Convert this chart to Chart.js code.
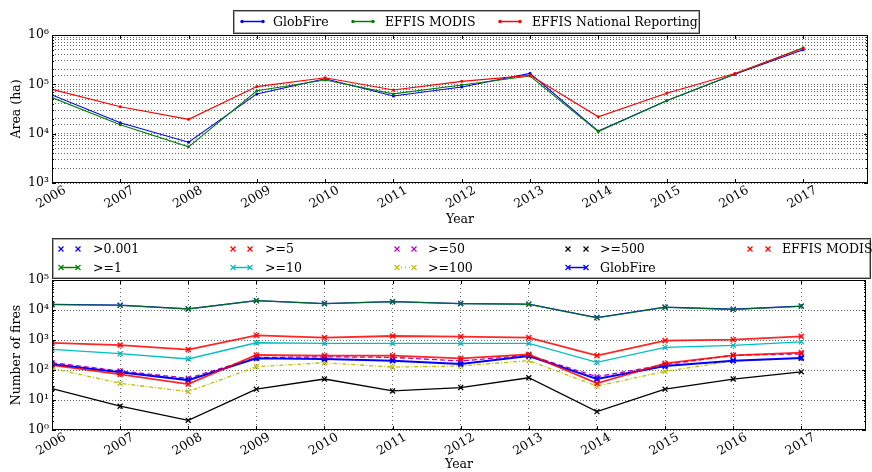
<!DOCTYPE html>
<html>
<head>
<meta charset="utf-8">
<script src="https://cdn.jsdelivr.net/npm/chart.js@4.4.0/dist/chart.umd.min.js"></script>
<style>
  html, body { margin: 0; padding: 0; background: #fff; overflow: hidden; }
  canvas { position: absolute; left: 0; }
</style>
</head>
<body>
<canvas id="areaChart" width="872" height="228" style="top:0"></canvas>
<canvas id="fireChart" width="872" height="244" style="top:228px"></canvas>
<script>
// values
const years = [2006, 2007, 2008, 2009, 2010, 2011, 2012, 2013, 2014, 2015, 2016, 2017];

const areaGlobFire = [61000, 16700, 6700, 64000, 130000, 58000, 88000, 167000, 11300, 46500, 160000, 503000];
const areaEffisModis = [54000, 15200, 5400, 74000, 122000, 64000, 97000, 147000, 11000, 46500, 162000, 553000];
const areaEffisNational = [79000, 35000, 19500, 90000, 136000, 77000, 115000, 152000, 22000, 66000, 166000, 537000];

const firesAll = [15300, 14500, 10900, 20600, 16400, 19100, 16400, 15700, 5600, 12400, 10600, 13500];
const firesGe1 = [15000, 14300, 10800, 20400, 16200, 18900, 16200, 15500, 5500, 12300, 10500, 13300];
const firesGe5 = [800, 680, 475, 1430, 1200, 1360, 1290, 1200, 300, 950, 1025, 1325];
const firesGe10 = [489, 349, 233, 810, 774, 774, 774, 774, 180, 570, 664, 870];
const firesGe50 = [175, 93, 53, 260, 275, 264, 200, 310, 60, 150, 310, 341];
const firesGe100 = [114, 36, 19, 129, 175, 125, 136, 205, 29, 90, 200, 245];
const firesGe500 = [24, 6.2, 2.1, 23, 50, 20, 26, 55, 4.1, 23, 50, 87];
const firesGlobFire = [155, 84, 46, 245, 233, 205, 158, 293, 50, 136, 205, 251];
const firesEffisModis = [145, 72, 34, 316, 300, 300, 245, 333, 36, 167, 308, 378];

const areaTickLabels = { 3: '10³', 4: '10⁴', 5: '10⁵', 6: '10⁶' };
const fireTickLabels = { 0: '10⁰', 1: '10¹', 2: '10²', 3: '10³', 4: '10⁴', 5: '10⁵' };

const FONT = 'DejaVu Serif';
const FSIZE = 12.5;
const GRID = 'rgba(0,0,0,0.6)';
const pts = arr => years.map((y, i) => ({ x: y, y: arr[i] }));
const isPow10 = v => Math.abs(Math.log10(v) - Math.round(Math.log10(v))) < 1e-9;

// box around plot + inward tick marks like matplotlib
const framePlugin = {
  id: 'frame',
  afterDraw(chart) {
    const { ctx, chartArea: a, scales } = chart;
    ctx.save();
    ctx.strokeStyle = '#000';
    ctx.lineWidth = 1;
    ctx.strokeRect(a.left + 0.5, a.top + 0.5, a.right - a.left - 1, a.bottom - a.top - 1);
    ctx.beginPath();
    scales.x.ticks.forEach(t => {
      const px = Math.round(scales.x.getPixelForValue(t.value)) + 0.5;
      ctx.moveTo(px, a.top); ctx.lineTo(px, a.top + 4);
      ctx.moveTo(px, a.bottom); ctx.lineTo(px, a.bottom - 4);
    });
    scales.y.ticks.forEach(t => {
      const py = Math.round(scales.y.getPixelForValue(t.value)) + 0.5;
      const len = isPow10(t.value) ? 4 : 2;
      ctx.moveTo(a.left, py); ctx.lineTo(a.left + len, py);
      ctx.moveTo(a.right, py); ctx.lineTo(a.right - len, py);
    });
    ctx.stroke();
    ctx.restore();
  }
};

function drawMarker(ctx, kind, x, y, color) {
  ctx.save();
  ctx.strokeStyle = color;
  ctx.fillStyle = color;
  ctx.lineWidth = 1.2;
  if (kind === 'dot') {
    ctx.beginPath(); ctx.arc(x, y, 1.7, 0, Math.PI * 2); ctx.fill();
  } else {
    ctx.beginPath();
    ctx.moveTo(x - 2.5, y - 2.5); ctx.lineTo(x + 2.5, y + 2.5);
    ctx.moveTo(x - 2.5, y + 2.5); ctx.lineTo(x + 2.5, y - 2.5);
    ctx.stroke();
  }
  ctx.restore();
}

// matplotlib-like legend box
const boxLegendPlugin = {
  id: 'boxLegend',
  afterDraw(chart, args, opts) {
    const ctx = chart.ctx;
    const [bx, by, bw, bh] = opts.box;
    ctx.save();
    ctx.fillStyle = '#fff';
    ctx.fillRect(bx, by, bw, bh);
    ctx.strokeStyle = '#333';
    ctx.lineWidth = 1;
    ctx.strokeRect(bx + 0.5, by + 0.5, bw - 1, bh - 1);
    ctx.strokeStyle = '#aaa';
    ctx.strokeRect(bx + 1.5, by + 1.5, bw - 3, bh - 3);
    ctx.font = FSIZE + 'px "' + FONT + '"';
    ctx.textBaseline = 'middle';
    ctx.fillStyle = '#000';
    opts.items.forEach(it => {
      if (it.line) {
        ctx.save();
        ctx.strokeStyle = it.color;
        ctx.lineWidth = it.width || 1.5;
        ctx.setLineDash(it.dash || []);
        ctx.beginPath();
        ctx.moveTo(it.x, it.y); ctx.lineTo(it.x + it.len, it.y);
        ctx.stroke();
        ctx.restore();
      }
      drawMarker(ctx, it.marker, it.x, it.y, it.color);
      drawMarker(ctx, it.marker, it.x + it.len, it.y, it.color);
      ctx.fillStyle = '#000';
      ctx.fillText(it.label, it.tx, it.y + 1);
    });
    ctx.restore();
  }
};

const xScale = (gridOn) => ({
  type: 'linear',
  min: 2006,
  max: 2017.95,
  afterFit: s => { s.height = gridOn ? 42 : 45; },
  ticks: {
    stepSize: 1,
    includeBounds: false,
    autoSkip: false,
    minRotation: 30,
    maxRotation: 30,
    labelOffset: 13,
    padding: 0,
    color: '#000',
    font: { family: FONT, size: FSIZE },
    callback: v => Number.isInteger(v) ? String(v) : ''
  },
  grid: {
    display: gridOn,
    drawTicks: false,
    color: GRID
  },
  border: { display: false, dash: [1, 3] },
  title: { display: true, text: 'Year', color: '#000', font: { family: FONT, size: FSIZE }, padding: { top: 0, bottom: gridOn ? 0 : 1 } }
});

const yScale = (min, max, labels, title, minorGrid) => ({
  type: 'logarithmic',
  min: min,
  max: max,
  afterFit: s => { s.width = 52; },
  ticks: {
    autoSkip: false,
    padding: 3,
    color: '#000',
    font: { family: FONT, size: FSIZE },
    callback: v => isPow10(v) ? (labels[Math.round(Math.log10(v))] || '') : ''
  },
  grid: {
    drawTicks: false,
    color: ctx => (minorGrid || isPow10(ctx.tick.value)) ? GRID : 'rgba(0,0,0,0)'
  },
  border: { display: false, dash: [1, 2] },
  title: { display: true, text: title, color: '#000', font: { family: FONT, size: FSIZE }, padding: { top: 9, bottom: 0 } }
});

new Chart(document.getElementById('areaChart'), {
  type: 'line',
  plugins: [framePlugin, boxLegendPlugin],
  data: {
    datasets: [
      { label: 'GlobFire', data: pts(areaGlobFire), borderColor: '#0000ff', backgroundColor: '#0000ff', order: 3 },
      { label: 'EFFIS MODIS', data: pts(areaEffisModis), borderColor: '#008000', backgroundColor: '#008000', order: 2 },
      { label: 'EFFIS National Reporting', data: pts(areaEffisNational), borderColor: '#ff0000', backgroundColor: '#ff0000', order: 1 }
    ]
  },
  options: {
    responsive: false,
    animation: false,
    layout: { padding: { top: 35, right: 1, left: 0, bottom: 0 } },
    elements: {
      line: { borderWidth: 1.1, tension: 0 },
      point: { radius: 1.5, pointStyle: 'circle', borderWidth: 0 }
    },
    scales: {
      x: xScale(false),
      y: yScale(1e3, 1e6, areaTickLabels, 'Area (ha)', true)
    },
    plugins: {
      legend: { display: false },
      tooltip: { enabled: false },
      boxLegend: {
        box: [233, 10, 467, 24],
        items: [
          { label: 'GlobFire', color: '#0000ff', marker: 'dot', line: true, x: 242, len: 21, y: 21.5, tx: 273 },
          { label: 'EFFIS MODIS', color: '#008000', marker: 'dot', line: true, x: 353, len: 20, y: 21.5, tx: 385 },
          { label: 'EFFIS National Reporting', color: '#ff0000', marker: 'dot', line: true, x: 500, len: 20, y: 21.5, tx: 532 }
        ]
      }
    }
  }
});

const fireSet = (label, arr, color, extra) => Object.assign({
  label: label,
  data: pts(arr),
  borderColor: color,
  backgroundColor: color,
  pointBorderColor: color
}, extra || {});

new Chart(document.getElementById('fireChart'), {
  type: 'line',
  plugins: [framePlugin, boxLegendPlugin],
  data: {
    datasets: [
      fireSet('>0.001', firesAll, '#0000ff', { order: 9 }),
      fireSet('>=1', firesGe1, 'rgba(0,128,0,0.8)', { order: 8 }),
      fireSet('>=5', firesGe5, 'rgba(255,0,0,0.85)', { order: 7, borderWidth: 1.8 }),
      fireSet('>=10', firesGe10, '#00bfbf', { order: 6 }),
      fireSet('>=50', firesGe50, '#bf00bf', { order: 5, borderDash: [5, 3] }),
      fireSet('>=100', firesGe100, '#bfbf00', { order: 4, borderDash: [4, 2, 1, 2] }),
      fireSet('>=500', firesGe500, '#000000', { order: 3 }),
      fireSet('GlobFire', firesGlobFire, '#0000ff', { order: 2, borderWidth: 2 }),
      fireSet('EFFIS MODIS', firesEffisModis, 'rgba(255,0,0,0.85)', { order: 1, borderWidth: 1.8 })
    ]
  },
  options: {
    responsive: false,
    animation: false,
    layout: { padding: { top: 52, right: 1, left: 0, bottom: 0 } },
    elements: {
      line: { borderWidth: 1.3, tension: 0 },
      point: { radius: 3.5, pointStyle: 'crossRot', borderWidth: 1.3 }
    },
    scales: {
      x: xScale(true),
      y: yScale(1, 1e5, fireTickLabels, 'Number of fires', false)
    },
    plugins: {
      legend: { display: false },
      tooltip: { enabled: false },
      boxLegend: {
        box: [52, 10, 819, 41],
        items: [
          { label: '>0.001', color: '#0000ff', marker: 'cross', line: false, x: 61, len: 17, y: 21, tx: 93 },
          { label: '>=1', color: '#008000', marker: 'cross', line: true, x: 61, len: 17, y: 39.5, tx: 93 },
          { label: '>=5', color: '#ff0000', marker: 'cross', line: false, x: 233, len: 17, y: 21, tx: 265 },
          { label: '>=10', color: '#00bfbf', marker: 'cross', line: true, x: 233, len: 17, y: 39.5, tx: 265 },
          { label: '>=50', color: '#bf00bf', marker: 'cross', line: false, x: 397, len: 17, y: 21, tx: 428 },
          { label: '>=100', color: '#bfbf00', marker: 'cross', line: true, dash: [1, 3], x: 397, len: 17, y: 39.5, tx: 428 },
          { label: '>=500', color: '#000000', marker: 'cross', line: false, x: 568, len: 18, y: 21, tx: 600 },
          { label: 'GlobFire', color: '#0000ff', marker: 'cross', line: true, x: 568, len: 18, y: 39.5, tx: 600 },
          { label: 'EFFIS MODIS', color: '#ff0000', marker: 'cross', line: false, x: 750, len: 18, y: 21, tx: 782 }
        ]
      }
    }
  }
});
</script>
</body>
</html>
